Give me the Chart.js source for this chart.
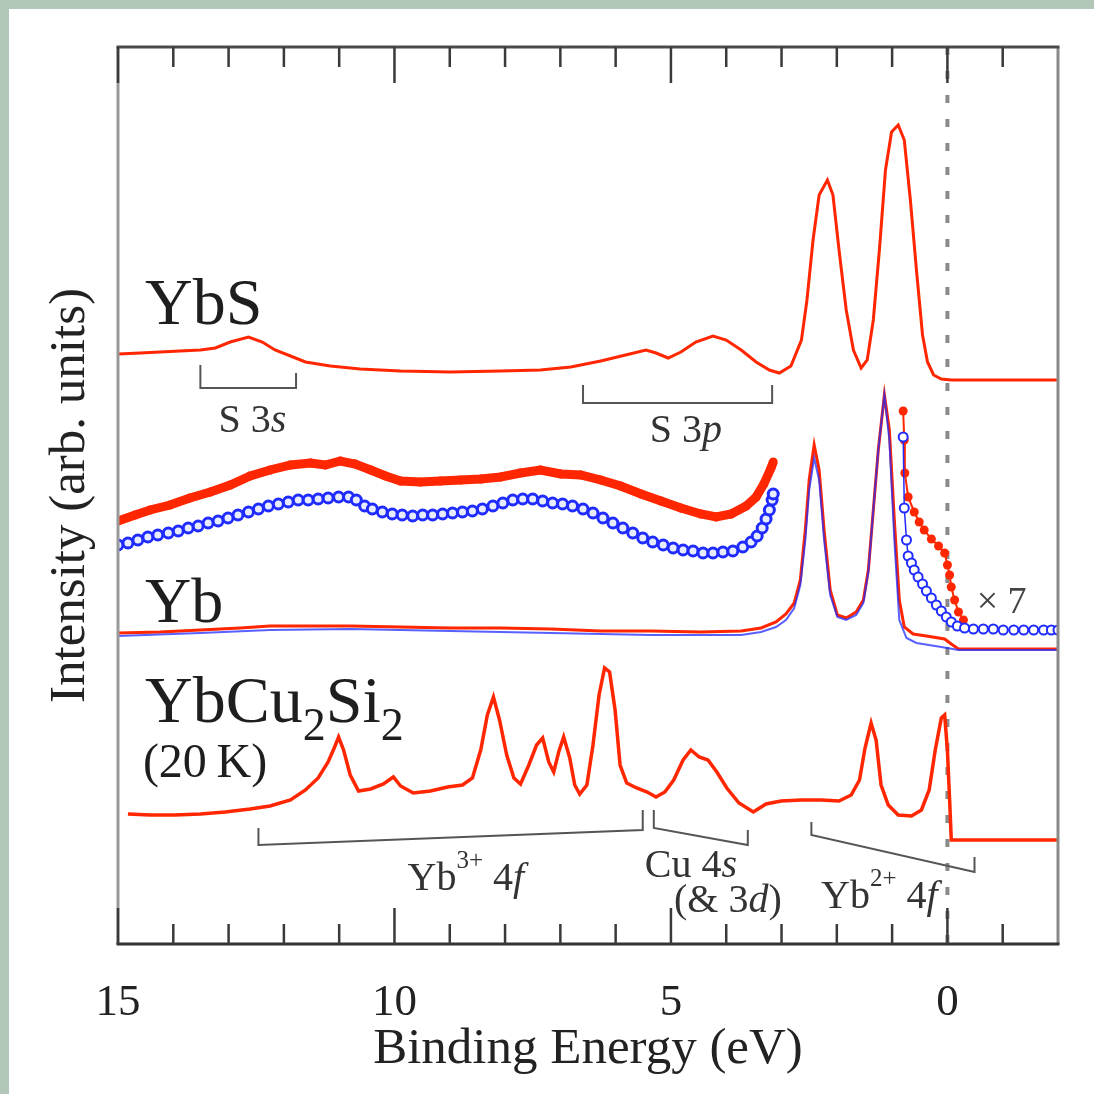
<!DOCTYPE html>
<html>
<head>
<meta charset="utf-8">
<script src="https://cdn.jsdelivr.net/npm/chart.js@4.4.1/dist/chart.umd.min.js"></script>
<style>
  html, body { margin: 0; padding: 0; background: #b1c7b8; }
  canvas { display: block; }
</style>
</head>
<body>
<canvas id="pesChart" width="1094" height="1094"></canvas>
<script>
// binding energy (eV) and intensity (arb. units)
const ybsEnergy = [15.0, 14.6, 14.24, 13.88, 13.51, 13.24, 12.97, 12.64, 12.39, 12.16, 11.88, 11.61, 11.16, 10.62, 9.89, 8.99, 8.08, 7.36, 6.81, 6.27, 5.82, 5.45, 5.27, 5.05, 4.82, 4.55, 4.24, 4.0, 3.73, 3.46, 3.22, 3.04, 2.83, 2.64, 2.54, 2.43, 2.32, 2.17, 2.07, 1.96, 1.83, 1.70, 1.56, 1.45, 1.34, 1.23, 1.12, 1.01, 0.89, 0.78, 0.67, 0.56, 0.45, 0.36, 0.25, 0.11, -0.07, -2.0];
const ybsIntensity = [590, 591, 592, 593, 594, 596, 602, 607, 602, 594, 588, 582, 578, 575, 573, 572, 573, 574, 577, 583, 589, 594, 591, 586, 592, 602, 608, 604, 594, 582, 574, 571, 578, 604, 644, 704, 749, 764, 749, 694, 634, 594, 576, 584, 624, 694, 774, 812, 819, 804, 744, 674, 609, 582, 569, 565, 564, 564];

const ybRedEnergy = [15.0, 14.24, 13.51, 12.79, 12.25, 11.70, 10.80, 9.89, 8.99, 8.08, 7.17, 6.27, 5.36, 4.46, 3.73, 3.37, 3.10, 2.92, 2.77, 2.66, 2.57, 2.50, 2.41, 2.32, 2.23, 2.12, 1.99, 1.83, 1.65, 1.52, 1.43, 1.34, 1.25, 1.14, 1.05, 0.96, 0.87, 0.78, 0.62, 0.38, 0.05, -0.07, -0.20, -2.0];
const ybRedIntensity = [311, 312, 314, 316, 318, 318, 318, 317, 316, 316, 315, 313, 313, 312, 313, 316, 322, 330, 341, 364, 414, 464, 499, 474, 414, 354, 329, 326, 332, 344, 374, 434, 494, 549, 514, 424, 344, 317, 310, 308, 305, 300, 295, 295];

const ybBlueEnergy = [15.0, 13.51, 12.25, 10.80, 8.99, 7.17, 5.36, 3.73, 3.37, 3.10, 2.92, 2.77, 2.66, 2.57, 2.50, 2.41, 2.32, 2.23, 2.12, 1.99, 1.83, 1.65, 1.52, 1.43, 1.34, 1.25, 1.14, 1.05, 0.96, 0.87, 0.74, 0.56, 0.11, -0.20, -2.0];
const ybBlueIntensity = [308, 311, 314, 315, 313, 311, 309, 309, 312, 317, 324, 336, 359, 404, 454, 486, 464, 404, 349, 327, 324, 329, 341, 372, 434, 494, 549, 504, 404, 324, 306, 301, 297, 294, 294];

// x7 spectra, valence band part and near-Fermi part
const ybRed7Energy = [15.0, 14.69, 14.42, 14.06, 13.70, 13.33, 12.97, 12.61, 12.25, 11.88, 11.52, 11.25, 10.98, 10.71, 10.43, 10.16, 9.89, 9.53, 9.17, 8.80, 8.44, 8.08, 7.72, 7.36, 6.99, 6.63, 6.27, 5.91, 5.54, 5.18, 4.82, 4.46, 4.18, 3.91, 3.64, 3.46, 3.32, 3.19, 3.15];
const ybRed7Intensity = [423, 429, 434, 439, 446, 452, 459, 468, 474, 479, 481, 479, 483, 480, 474, 468, 463, 462, 463, 464, 465, 467, 471, 474, 470, 469, 464, 458, 450, 443, 436, 430, 427, 430, 438, 447, 460, 476, 482];
const ybRed7EdgeEnergy = [0.80, 0.78, 0.77, 0.71, 0.60, 0.51, 0.42, 0.29, 0.16, 0.05, 0.0, -0.04, -0.07, -0.13, -0.20, -0.29];
const ybRed7EdgeIntensity = [533, 504, 471, 447, 432, 422, 414, 405, 398, 391, 379, 369, 357, 344, 332, 324];

const ybBlue7Energy = [15.0, 14.82, 14.64, 14.46, 14.28, 14.09, 13.91, 13.73, 13.55, 13.37, 13.19, 13.01, 12.83, 12.64, 12.46, 12.28, 12.10, 11.92, 11.74, 11.56, 11.38, 11.20, 11.01, 10.83, 10.69, 10.54, 10.40, 10.22, 10.04, 9.86, 9.67, 9.49, 9.31, 9.13, 8.95, 8.77, 8.59, 8.41, 8.22, 8.04, 7.86, 7.68, 7.50, 7.32, 7.14, 6.96, 6.78, 6.59, 6.41, 6.23, 6.05, 5.87, 5.69, 5.51, 5.33, 5.14, 4.96, 4.78, 4.60, 4.42, 4.24, 4.06, 3.88, 3.70, 3.55, 3.44, 3.35, 3.28, 3.22, 3.17, 3.15];
const ybBlue7Intensity = [399, 401, 404, 407, 409, 411, 413, 416, 418, 421, 423, 426, 429, 432, 435, 438, 440, 442, 444, 444, 445, 446, 447, 447, 444, 438, 435, 432, 430, 429, 428, 429, 429, 430, 431, 432, 433, 435, 438, 441, 444, 445, 445, 443, 441, 440, 438, 435, 431, 426, 421, 416, 411, 406, 402, 399, 396, 394, 393, 391, 391, 392, 393, 397, 402, 408, 416, 425, 434, 444, 450];
const ybBlue7EdgeEnergy = [0.80, 0.78, 0.74, 0.71, 0.65, 0.60, 0.53, 0.45, 0.38, 0.29, 0.20, 0.11, 0.02, -0.07, -0.18, -0.31, -0.47, -0.65, -0.83, -1.01, -1.20, -1.38, -1.56, -1.74, -1.88, -2.0];
const ybBlue7EdgeIntensity = [507, 436, 404, 388, 381, 374, 367, 360, 353, 346, 339, 333, 327, 322, 318, 316, 315, 315, 315, 314, 314, 314, 314, 314, 314, 314];

const cuEnergy = [14.82, 14.42, 13.97, 13.51, 13.06, 12.61, 12.25, 11.88, 11.61, 11.38, 11.20, 11.09, 11.01, 10.92, 10.80, 10.65, 10.43, 10.20, 10.02, 9.89, 9.66, 9.35, 9.04, 8.77, 8.59, 8.44, 8.32, 8.21, 8.10, 7.97, 7.84, 7.72, 7.57, 7.43, 7.32, 7.21, 7.12, 7.03, 6.94, 6.83, 6.74, 6.65, 6.52, 6.41, 6.30, 6.20, 6.11, 6.01, 5.92, 5.80, 5.62, 5.43, 5.27, 5.11, 4.95, 4.78, 4.64, 4.49, 4.33, 4.17, 3.99, 3.77, 3.51, 3.28, 3.01, 2.64, 2.28, 1.96, 1.74, 1.59, 1.49, 1.38, 1.29, 1.20, 1.07, 0.89, 0.65, 0.47, 0.33, 0.22, 0.11, 0.05, 0.0, -0.04, -0.07, -2.0];
const cuIntensity = [130, 129, 129, 130, 132, 135, 138, 144, 154, 166, 182, 196, 207, 194, 169, 153, 155, 160, 167, 158, 151, 153, 157, 159, 166, 194, 229, 247, 224, 189, 166, 160, 179, 199, 206, 182, 172, 192, 207, 186, 159, 150, 159, 199, 249, 276, 272, 234, 179, 161, 156, 152, 147, 152, 164, 184, 194, 187, 184, 172, 156, 141, 132, 140, 143, 144, 144, 143, 149, 164, 196, 221, 204, 159, 139, 129, 128, 134, 154, 194, 226, 229, 194, 144, 104, 104];

const xMajorTicks = [15, 10, 5, 0];
const xMinorTicks = [14, 13, 12, 11, 9, 8, 7, 6, 4, 3, 2, 1, -1];

const RED = 'rgb(255,38,0)';
const BLUE = 'rgb(32,44,255)';
const SERIF = '"Liberation Serif", "Times New Roman", serif';

function pts(xs, ys) {
    return xs.map((x, i) => ({ x: x, y: ys[i] }));
}

function richText(ctx, parts, x, y, align) {
    let w = 0;
    parts.forEach(p => {
        ctx.font = (p.italic ? 'italic ' : '') + p.size + 'px ' + SERIF;
        w += ctx.measureText(p.t).width;
    });
    let cx = align === 'center' ? x - w / 2 : x;
    parts.forEach(p => {
        ctx.font = (p.italic ? 'italic ' : '') + p.size + 'px ' + SERIF;
        ctx.fillText(p.t, cx, y + (p.dy || 0));
        cx += ctx.measureText(p.t).width;
    });
}

const decorPlugin = {
    id: 'decor',
    beforeDraw(chart) {
        const ctx = chart.ctx;
        ctx.save();
        ctx.fillStyle = '#b1c7b8';
        ctx.fillRect(0, 0, chart.width, chart.height);
        ctx.fillStyle = '#ffffff';
        ctx.fillRect(9, 9, chart.width - 9, chart.height - 9);
        ctx.restore();
    },
    beforeDatasetsDraw(chart) {
        const ctx = chart.ctx;
        const a = chart.chartArea;
        const x0 = chart.scales.x.getPixelForValue(0);
        ctx.save();
        ctx.strokeStyle = '#8a8a8a';
        ctx.lineWidth = 4;
        ctx.setLineDash([8, 16]);
        ctx.beginPath();
        ctx.moveTo(x0, a.top);
        ctx.lineTo(x0, a.bottom);
        ctx.stroke();
        ctx.restore();
    },
    afterDatasetsDraw(chart) {
        const ctx = chart.ctx;
        const a = chart.chartArea;
        const xs = chart.scales.x, ys = chart.scales.y;
        const X = v => xs.getPixelForValue(v);
        const Y = v => ys.getPixelForValue(v);
        ctx.save();

        // frame
        ctx.lineWidth = 3;
        const side = (c, x1, y1, x2, y2) => {
            ctx.strokeStyle = c;
            ctx.beginPath();
            ctx.moveTo(x1, y1);
            ctx.lineTo(x2, y2);
            ctx.stroke();
        };
        side('#999999', a.left, a.top, a.left, a.bottom);
        side('#8a8a8a', a.right, a.top, a.right, a.bottom);
        side('#4a4a4a', a.left - 1.5, a.top, a.right + 1.5, a.top);
        side('#333333', a.left - 1.5, a.bottom, a.right + 1.5, a.bottom);

        // inward ticks top and bottom
        ctx.strokeStyle = '#3a3a3a';
        ctx.lineWidth = 2.5;
        const tick = (v, len) => {
            const px = X(v);
            ctx.beginPath();
            ctx.moveTo(px, a.bottom);
            ctx.lineTo(px, a.bottom - len);
            ctx.moveTo(px, a.top);
            ctx.lineTo(px, a.top + len);
            ctx.stroke();
        };
        xMajorTicks.forEach(v => tick(v, 36));
        xMinorTicks.forEach(v => tick(v, 20));

        // brackets
        ctx.strokeStyle = '#555555';
        ctx.lineWidth = 2;
        const brackets = [
            [13.51, 579, 556, 11.78, 571, 556],
            [6.59, 559, 541, 3.17, 559, 541],
            [12.46, 116, 99, 5.51, 134, 114],
            [5.31, 134, 116, 3.61, 114, 99],
            [2.46, 122, 109, -0.49, 87, 72]
        ];
        brackets.forEach(b => {
            ctx.beginPath();
            ctx.moveTo(X(b[0]), Y(b[1]));
            ctx.lineTo(X(b[0]), Y(b[2]));
            ctx.lineTo(X(b[3]), Y(b[5]));
            ctx.lineTo(X(b[3]), Y(b[4]));
            ctx.stroke();
        });

        // annotation texts
        ctx.fillStyle = '#333333';
        ctx.textBaseline = 'alphabetic';
        const A = 40, S = 25;
        richText(ctx, [{t: 'S 3', size: A}, {t: 's', size: A, italic: true}], X(12.57), Y(512), 'center');
        richText(ctx, [{t: 'S 3', size: A}, {t: 'p', size: A, italic: true}], X(4.73), Y(502), 'center');
        richText(ctx, [{t: 'Yb', size: A}, {t: '3+', size: S, dy: -22}, {t: ' 4', size: A}, {t: 'f', size: A, italic: true}], X(8.71), Y(54), 'center');
        richText(ctx, [{t: 'Cu 4', size: A}, {t: 's', size: A, italic: true}], X(4.64), Y(67), 'center');
        richText(ctx, [{t: '(& 3', size: A}, {t: 'd', size: A, italic: true}, {t: ')', size: A}], X(3.97), Y(32), 'center');
        richText(ctx, [{t: 'Yb', size: A}, {t: '2+', size: S, dy: -22}, {t: ' 4', size: A}, {t: 'f', size: A, italic: true}], X(1.23), Y(36), 'center');
        ctx.fillStyle = '#444444';
        richText(ctx, [{t: '\u00d7 7', size: 38}], X(-0.98), Y(331), 'center');

        // sample labels
        ctx.fillStyle = '#1e1e1e';
        richText(ctx, [{t: 'YbS', size: 66}], X(14.51), Y(620), 'left');
        richText(ctx, [{t: 'Yb', size: 64}], X(14.51), Y(322), 'left');
        richText(ctx, [{t: 'YbCu', size: 66}, {t: '2', size: 46, dy: 18}, {t: 'Si', size: 66}, {t: '2', size: 46, dy: 18}], X(14.51), Y(222), 'left');
        richText(ctx, [{t: '(20\u2009K)', size: 48}], X(14.55), Y(167), 'left');

        ctx.restore();
    }
};

const ctx = document.getElementById('pesChart');
new Chart(ctx, {
    type: 'scatter',
    data: {
        datasets: [
            {
                label: 'Yb x7 (blue) edge',
                data: pts(ybBlue7EdgeEnergy, ybBlue7EdgeIntensity),
                showLine: true,
                borderColor: BLUE,
                borderWidth: 1.5,
                pointRadius: 4.5,
                pointBorderWidth: 2,
                pointBorderColor: BLUE,
                pointBackgroundColor: '#ffffff'
            },
            {
                label: 'Yb x7 (blue)',
                data: pts(ybBlue7Energy, ybBlue7Intensity),
                showLine: true,
                borderColor: BLUE,
                borderWidth: 6,
                pointRadius: 5,
                pointBorderWidth: 3,
                pointBorderColor: BLUE,
                pointBackgroundColor: '#e8ecff'
            },
            {
                label: 'Yb x7 (red) edge',
                data: pts(ybRed7EdgeEnergy, ybRed7EdgeIntensity),
                showLine: true,
                borderColor: RED,
                borderWidth: 2,
                pointRadius: 4.5,
                pointBorderWidth: 0,
                pointBackgroundColor: RED
            },
            {
                label: 'Yb x7 (red)',
                data: pts(ybRed7Energy, ybRed7Intensity),
                showLine: true,
                borderColor: RED,
                borderWidth: 9,
                pointRadius: 4.5,
                pointBorderWidth: 0,
                pointBackgroundColor: RED
            },
            {
                label: 'Yb (blue)',
                data: pts(ybBlueEnergy, ybBlueIntensity),
                showLine: true,
                borderColor: 'rgba(32,44,255,0.75)',
                borderWidth: 2,
                pointRadius: 0
            },
            {
                label: 'Yb (red)',
                data: pts(ybRedEnergy, ybRedIntensity),
                showLine: true,
                borderColor: RED,
                borderWidth: 3,
                pointRadius: 0
            },
            {
                label: 'YbS',
                data: pts(ybsEnergy, ybsIntensity),
                showLine: true,
                borderColor: RED,
                borderWidth: 3,
                pointRadius: 0
            },
            {
                label: 'YbCu2Si2 (20 K)',
                data: pts(cuEnergy, cuIntensity),
                showLine: true,
                borderColor: RED,
                borderWidth: 3.5,
                pointRadius: 0
            }
        ]
    },
    options: {
        responsive: false,
        animation: false,
        events: [],
        layout: { padding: { left: 0, right: 36, top: 47, bottom: 0 } },
        plugins: {
            legend: { display: false },
            tooltip: { enabled: false }
        },
        scales: {
            x: {
                type: 'linear',
                reverse: true,
                min: -2,
                max: 15,
                afterFit: function(axis) { axis.height = 150; },
                afterBuildTicks: function(axis) {
                    axis.ticks = xMajorTicks.map(v => ({ value: v }));
                },
                grid: { display: false, drawTicks: false },
                border: { display: false },
                ticks: {
                    padding: 32,
                    color: '#222222',
                    maxRotation: 0,
                    font: { family: SERIF, size: 45 }
                },
                title: {
                    display: true,
                    text: 'Binding Energy (eV)',
                    color: '#222222',
                    font: { family: SERIF, size: 51 },
                    padding: { top: 0, bottom: 14 }
                }
            },
            y: {
                min: 0,
                max: 897,
                afterFit: function(axis) { axis.width = 118; },
                grid: { display: false, drawTicks: false },
                border: { display: false },
                ticks: { display: false },
                title: {
                    display: true,
                    text: 'Intensity (arb. units)',
                    color: '#222222',
                    font: { family: SERIF, size: 51 },
                    padding: { top: 40, bottom: 0 }
                }
            }
        }
    },
    plugins: [decorPlugin]
});
</script>
</body>
</html>
